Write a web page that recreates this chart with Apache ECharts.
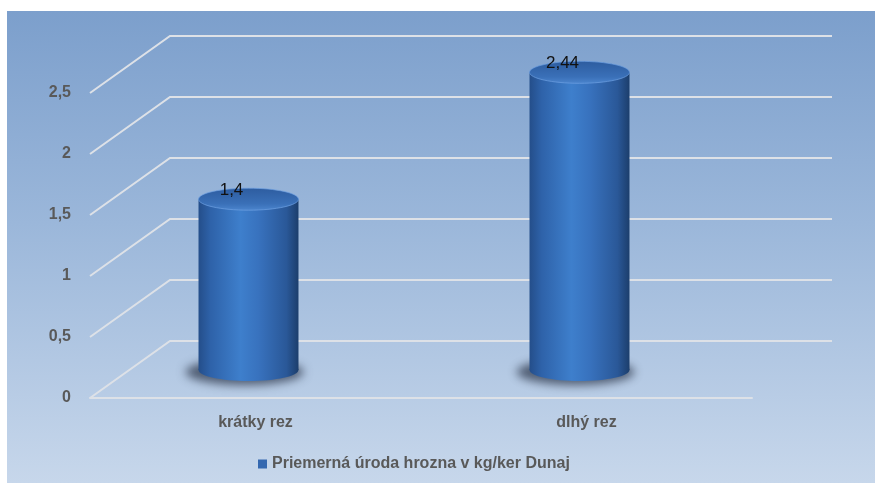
<!DOCTYPE html>
<html>
<head>
<meta charset="utf-8">
<script src="https://cdn.jsdelivr.net/npm/echarts/dist/echarts.min.js"></script>
<style>
  html, body { margin: 0; padding: 0; background: #ffffff; }
  #bg { position: absolute; left: 7px; top: 11px; width: 868px; height: 472px;
        background: linear-gradient(180deg, #7c9fcc 0%, #9bb7da 45%, #c7d7eb 100%); }
  #chart { position: absolute; left: 0; top: 0; width: 875px; height: 483px; }
</style>
</head>
<body>
<div id="bg"></div>
<div id="chart"></div>
<script>
// Average grape yield per vine (kg), short vs long pruning
const categories = ['krátky rez', 'dlhý rez'];
const seriesName = 'Priemerná úroda hrozna v kg/ker Dunaj';
const yields = [1.4, 2.44];
const valueTicks = [0, 0.5, 1, 1.5, 2, 2.5];

// 3D look: back wall offset and cylinder placement
const DEPTH_DX = 80, DEPTH_DY = -57;
const BAR_DX = -7, BAR_DY = -28;
const BAR_RX_RATIO = 0.151, BAR_RY = 11;
const SHADOW_SHIFT = 2000;
const FONT = '"Liberation Sans", Arial, sans-serif';
const fmt = v => String(v).replace('.', ',');

const chart = echarts.init(document.getElementById('chart'), null, { renderer: 'canvas' });

function wallItem(params, api) {
  const v = api.value(1);
  const band = api.size([1, 0])[0];
  const p0 = api.coord([0, v]);
  const p1 = api.coord([categories.length - 1, v]);
  const xl = p0[0] - band / 2, xr = p1[0] + band / 2, y = p0[1];
  return {
    type: 'polyline',
    silent: true,
    shape: { points: [[xl, y], [xl + DEPTH_DX, y + DEPTH_DY], [xr + DEPTH_DX, y + DEPTH_DY]] },
    style: { stroke: '#dde1e7', lineWidth: 2, fill: null }
  };
}

function cylinderItem(params, api) {
  const ci = api.value(0), v = api.value(1);
  const band = api.size([1, 0])[0];
  const base = api.coord([ci, 0]);
  const top = api.coord([ci, v]);
  const cx = base[0] + BAR_DX;
  const rx = band * BAR_RX_RATIO;
  const ry = BAR_RY;
  const yb = base[1] + BAR_DY;
  const yt = top[1] + BAR_DY;
  const bodyFill = new echarts.graphic.LinearGradient(0, 0, 1, 0, [
    { offset: 0, color: '#244e8a' },
    { offset: 0.12, color: '#2e62a9' },
    { offset: 0.42, color: '#3e7fcc' },
    { offset: 0.6, color: '#3872be' },
    { offset: 0.88, color: '#2a5898' },
    { offset: 1, color: '#1c3e6c' }
  ]);
  const topFill = new echarts.graphic.LinearGradient(0, 0, 0, 1, [
    { offset: 0, color: '#2d5c9f' },
    { offset: 0.7, color: '#3a70b8' },
    { offset: 1, color: '#4c86cf' }
  ]);
  return {
    type: 'group',
    children: [
      {
        // soft floor shadow: only the blurred shadow of an off-canvas ellipse is visible
        type: 'ellipse', silent: true,
        shape: { cx: cx - 4, cy: yb + 2 - SHADOW_SHIFT, rx: rx + 9, ry: ry + 2 },
        style: {
          fill: '#000', shadowBlur: 10, shadowOffsetY: SHADOW_SHIFT,
          shadowColor: 'rgba(35,45,65,0.7)'
        }
      },
      {
        type: 'ellipse', silent: true,
        shape: { cx: cx, cy: yb, rx: rx, ry: ry },
        style: { fill: bodyFill }
      },
      {
        type: 'rect', silent: true,
        shape: { x: cx - rx, y: yt, width: rx * 2, height: yb - yt },
        style: { fill: bodyFill }
      },
      {
        type: 'ellipse', silent: true,
        shape: { cx: cx, cy: yt, rx: rx, ry: ry },
        style: { fill: topFill, stroke: 'rgba(110,160,225,0.7)', lineWidth: 1 }
      },
      {
        type: 'text', silent: true,
        style: {
          text: fmt(v), x: cx - 17, y: yt - 9,
          align: 'center', verticalAlign: 'middle',
          font: '17px ' + FONT, fill: '#111111'
        }
      }
    ]
  };
}

chart.setOption({
  animation: false,
  backgroundColor: 'transparent',
  grid: { left: 90, right: 123, top: 93, bottom: 85 },
  legend: {
    data: [{ name: seriesName, icon: 'rect' }],
    left: 258, top: 456, padding: 0,
    itemWidth: 9, itemHeight: 9,
    textStyle: { color: '#595959', fontWeight: 'bold', fontSize: 16, fontFamily: FONT }
  },
  xAxis: {
    type: 'category',
    data: categories,
    axisLine: { show: true, lineStyle: { color: '#dde1e7', width: 2 } },
    axisTick: { show: false },
    axisLabel: { color: '#595959', fontWeight: 'bold', fontSize: 16, fontFamily: FONT, margin: 17 }
  },
  yAxis: {
    type: 'value',
    min: 0, max: 2.5, interval: 0.5,
    axisLine: { show: false },
    axisTick: { show: false },
    splitLine: { show: false },
    axisLabel: {
      color: '#595959', fontWeight: 'bold', fontSize: 16, fontFamily: FONT,
      margin: 19, padding: [5, 0, 0, 0], formatter: fmt
    }
  },
  series: [
    {
      name: 'walls',
      type: 'custom',
      clip: false,
      silent: true,
      z: 1,
      renderItem: wallItem,
      encode: { x: 0, y: 1 },
      data: valueTicks.map(v => [0, v])
    },
    {
      name: seriesName,
      type: 'custom',
      clip: false,
      z: 3,
      itemStyle: { color: '#3468b0' },
      renderItem: cylinderItem,
      encode: { x: 0, y: 1 },
      data: yields.map((v, i) => [i, v])
    }
  ]
});
</script>
</body>
</html>
